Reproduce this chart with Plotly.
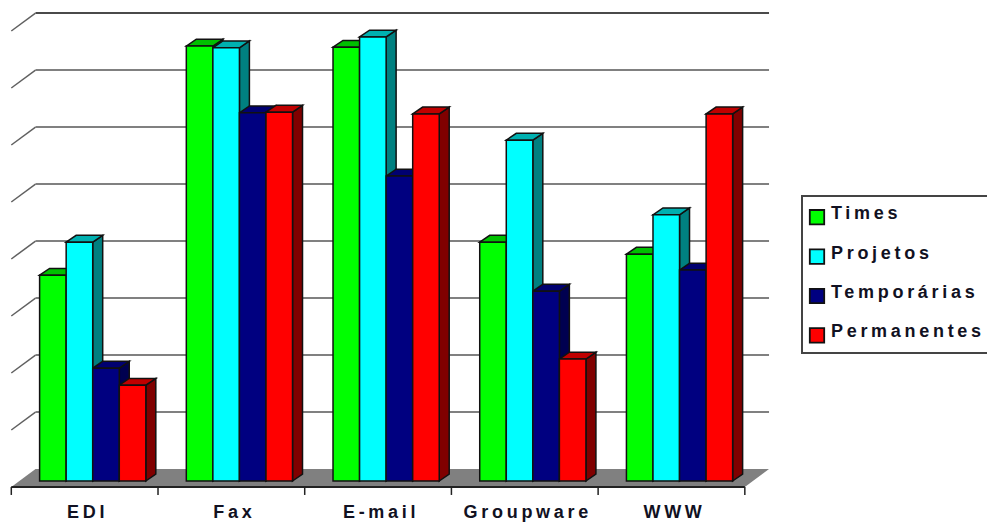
import plotly.graph_objects as go

categories = ["EDI", "Fax", "E-mail", "Groupware", "WWW"]
times = [36.1, 76.3, 76.1, 41.9, 39.8]
projetos = [41.9, 76.0, 77.9, 59.8, 46.7]
temporarias = [19.8, 64.6, 53.5, 33.3, 37.0]
permanentes = [16.8, 64.7, 64.4, 21.4, 64.4]
grid_values = [10, 20, 30, 40, 50, 60, 70, 80]

series = [
    ("Times", times, "#00ff00", "#00c000", "#008000"),
    ("Projetos", projetos, "#00ffff", "#00b0b0", "#008080"),
    ("Temporárias", temporarias, "#000080", "#000070", "#000050"),
    ("Permanentes", permanentes, "#ff0000", "#c00000", "#800000"),
]

# Pseudo-3D geometry, in axis units (1 category = 146.7 px, 10 y units = 57 px)
BAR_START, BAR_WIDTH = -0.307, 0.181
DEPTH_X, DEPTH_Y = 0.068, 1.2
WALL_X, FRONT_Y, BACK_Y = 0.165, -1.05, 2.1


def poly(points):
    return "M" + " L".join(f"{x:.4f} {y:.4f}" for x, y in points) + " Z"


shapes = []

# Floor and back-wall lines
last = len(categories) - 0.5
shapes.append(dict(type="path", layer="below", xref="x", yref="y", fillcolor="#808080",
                   line=dict(width=0),
                   path=poly([(-0.5, FRONT_Y), (-0.5 + WALL_X, BACK_Y),
                              (last + WALL_X, BACK_Y), (last, FRONT_Y)])))
for v in grid_values:
    color = "#4a4a4a" if v == grid_values[-1] else "#808080"
    shapes.append(dict(type="line", layer="below", xref="x", yref="y",
                       x0=-0.5 + WALL_X, x1=last + WALL_X, y0=v + BACK_Y, y1=v + BACK_Y,
                       line=dict(color=color, width=2)))
    shapes.append(dict(type="line", layer="below", xref="x", yref="y",
                       x0=-0.5, x1=-0.5 + WALL_X, y0=v + FRONT_Y, y1=v + BACK_Y,
                       line=dict(color="#606060", width=1.5)))

# Front edge of the floor with its tick marks
shapes.append(dict(type="line", layer="below", xref="x", yref="y", x0=-0.5, x1=last,
                   y0=FRONT_Y, y1=FRONT_Y, line=dict(color="#222222", width=2)))
for i in range(len(categories) + 1):
    shapes.append(dict(type="line", layer="below", xref="x", yref="y", x0=i - 0.5, x1=i - 0.5,
                       y0=FRONT_Y, y1=FRONT_Y - 1.4, line=dict(color="#222222", width=1.5)))

# Top and side faces of each bar; the fronts are bar traces drawn above them
for s, (name, values, front, top, side) in enumerate(series):
    for c, v in enumerate(values):
        x0 = c + BAR_START + s * BAR_WIDTH
        x1 = x0 + BAR_WIDTH
        edge = dict(color="#111111", width=1.5)
        shapes.append(dict(type="path", layer="below", xref="x", yref="y", fillcolor=side, line=edge,
                           path=poly([(x1, 0), (x1 + DEPTH_X, DEPTH_Y),
                                      (x1 + DEPTH_X, v + DEPTH_Y), (x1, v)])))
        shapes.append(dict(type="path", layer="below", xref="x", yref="y", fillcolor=top, line=edge,
                           path=poly([(x0, v), (x0 + DEPTH_X, v + DEPTH_Y),
                                      (x1 + DEPTH_X, v + DEPTH_Y), (x1, v)])))

# Legend frame runs past the right edge of the page
shapes.append(dict(type="rect", xref="paper", yref="paper", x0=(802 - 8) / 768, x1=(1000 - 8) / 768,
                   y0=1 - 353 / 496, y1=1 - 196 / 496, line=dict(color="#444444", width=2)))

fig = go.Figure()
for s, (name, values, front, top, side) in enumerate(series):
    fig.add_trace(go.Bar(
        x=categories, y=values, name=name, legendgroup=name,
        width=BAR_WIDTH, offset=BAR_START + s * BAR_WIDTH,
        marker=dict(color=front, line=dict(color="#111111", width=1.5)),
    ))

fig.update_layout(
    width=987, height=525,
    margin=dict(l=8, r=211, t=0, b=29, pad=0),
    paper_bgcolor="white", plot_bgcolor="white",
    barmode="overlay", shapes=shapes, showlegend=True,
    font=dict(family="Liberation Sans", color="#111122"),
    xaxis=dict(type="category", categoryorder="array", categoryarray=categories,
               range=[-0.5225, 4.7125], showgrid=False, zeroline=False, showline=False, ticks="",
               tickfont=dict(size=18, weight="bold"), ticklabelstandoff=2),
    yaxis=dict(range=[-2.632, 84.386], visible=False),
    legend=dict(x=(791 - 8) / 768, y=1 - 194 / 496, xanchor="left", yanchor="top",
                borderwidth=0, bgcolor="rgba(0,0,0,0)", tracegroupgap=13,
                font=dict(size=18, weight="bold")),
)

# Wide tracking on legend entries and category labels; larger legend swatches set off to the right.
# The tracked entries are wider than plotly measured, so the legend clip is lifted.
tracking = """
document.querySelectorAll('.legendtext').forEach(t => t.style.letterSpacing = '3.7px');
document.querySelectorAll('.xtick text').forEach(t => {
  t.style.letterSpacing = '3.7px';
  t.setAttribute('dx', '3');
  t.setAttribute('dy', '1');
});
document.querySelectorAll('.legendpoints').forEach(t => t.style.transform = 'translate(2px, 5px) scale(1.2)');
document.querySelectorAll('.legend .scrollbox, .legend [clip-path]').forEach(t => t.removeAttribute('clip-path'));
"""
fig.write_html("out.html", post_script=tracking)
